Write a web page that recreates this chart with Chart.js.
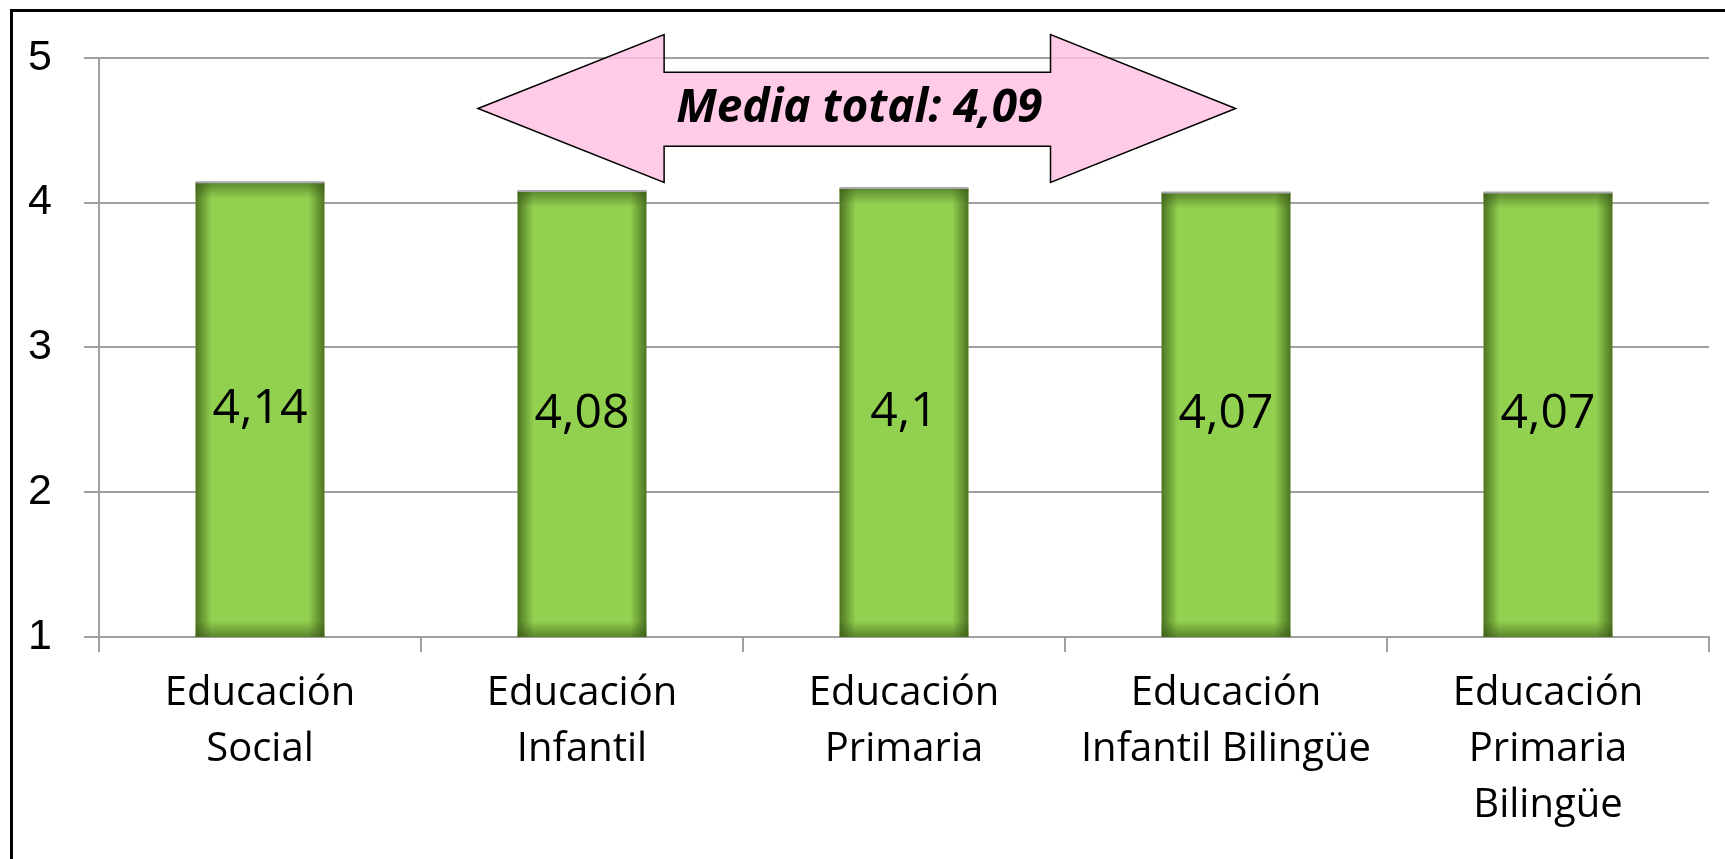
<!DOCTYPE html>
<html>
<head>
<meta charset="utf-8">
<script src="https://cdn.jsdelivr.net/npm/chart.js@4"></script>
<style>
  html, body { margin: 0; padding: 0; background: #fff; }
  #wrap { width: 1725px; height: 859px; }
</style>
</head>
<body>
<div id="wrap"><canvas id="grafico" width="1725" height="859"></canvas></div>
<script>
// Titulaciones y valoración media
const titulaciones = [
    ['Educación', 'Social'],
    ['Educación', 'Infantil'],
    ['Educación', 'Primaria'],
    ['Educación', 'Infantil Bilingüe'],
    ['Educación', 'Primaria', 'Bilingüe']
];
const medias = [4.14, 4.08, 4.1, 4.07, 4.07];
const mediaTotal = 4.09;
const escalaY = [1, 2, 3, 4, 5];

const fmt = v => String(v).replace('.', ',');

// Marco negro alrededor del gráfico
const marco = {
    id: 'marco',
    beforeDraw(chart) {
        const ctx = chart.ctx;
        ctx.save();
        ctx.strokeStyle = '#000';
        ctx.lineWidth = 3;
        ctx.strokeRect(11.5, 10.5, 1800, 1000);
        ctx.restore();
    }
};

// Sombreado interior de las barras y etiquetas de valor
const barras = {
    id: 'barras',
    afterDatasetsDraw(chart) {
        const ctx = chart.ctx;
        const meta = chart.getDatasetMeta(0);
        const area = chart.chartArea;
        ctx.save();
        meta.data.forEach((bar, i) => {
            const left = bar.x - bar.width / 2;
            const right = bar.x + bar.width / 2;
            const top = bar.y;
            const bottom = Math.min(bar.base, area.bottom);
            const s = 16;
            let g = ctx.createLinearGradient(left, 0, left + s, 0);
            g.addColorStop(0, 'rgba(55,85,20,0.75)');
            g.addColorStop(1, 'rgba(55,85,20,0)');
            ctx.fillStyle = g;
            ctx.fillRect(left, top, s, bottom - top);
            g = ctx.createLinearGradient(right, 0, right - s, 0);
            g.addColorStop(0, 'rgba(55,85,20,0.75)');
            g.addColorStop(1, 'rgba(55,85,20,0)');
            ctx.fillStyle = g;
            ctx.fillRect(right - s, top, s, bottom - top);
            g = ctx.createLinearGradient(0, top, 0, top + s);
            g.addColorStop(0, 'rgba(55,85,20,0.6)');
            g.addColorStop(1, 'rgba(55,85,20,0)');
            ctx.fillStyle = g;
            ctx.fillRect(left, top, right - left, s);
            g = ctx.createLinearGradient(0, bottom, 0, bottom - s);
            g.addColorStop(0, 'rgba(55,85,20,0.6)');
            g.addColorStop(1, 'rgba(55,85,20,0)');
            ctx.fillStyle = g;
            ctx.fillRect(left, bottom - s, right - left, s);
            ctx.strokeStyle = '#a8a8b0';
            ctx.lineWidth = 2;
            ctx.beginPath();
            ctx.moveTo(left, top);
            ctx.lineTo(right, top);
            ctx.stroke();

            ctx.fillStyle = '#000';
            ctx.font = '48px "Open Sans"';
            ctx.textAlign = 'center';
            ctx.textBaseline = 'middle';
            ctx.fillText(fmt(medias[i]), bar.x, (top + bottom) / 2);
        });
        ctx.restore();
    }
};

// Flecha doble con la media total
const flecha = {
    id: 'flecha',
    afterDraw(chart) {
        const x = chart.scales.x, y = chart.scales.y;
        const px = v => x.getPixelForValue(v);
        const py = v => y.getPixelForValue(v);
        const xa = px(0.677), xb = px(1.255), xc = px(2.455), xd = px(3.03);
        const ym = py(4.65), yt = py(5.16), yb = py(4.14), st = py(4.9), sb = py(4.39);
        const ctx = chart.ctx;
        ctx.save();
        ctx.beginPath();
        ctx.moveTo(xa, ym);
        ctx.lineTo(xb, yt);
        ctx.lineTo(xb, st);
        ctx.lineTo(xc, st);
        ctx.lineTo(xc, yt);
        ctx.lineTo(xd, ym);
        ctx.lineTo(xc, yb);
        ctx.lineTo(xc, sb);
        ctx.lineTo(xb, sb);
        ctx.lineTo(xb, yb);
        ctx.closePath();
        ctx.fillStyle = 'rgba(255,192,226,0.82)';
        ctx.fill();
        ctx.strokeStyle = '#000';
        ctx.lineWidth = 1.5;
        ctx.stroke();
        ctx.fillStyle = '#000';
        ctx.font = 'italic bold 46px "Open Sans"';
        ctx.textAlign = 'center';
        ctx.textBaseline = 'middle';
        ctx.fillText('Media total: ' + fmt(mediaTotal), (xb + xc) / 2 + 2, ym);
        ctx.restore();
    }
};

new Chart(document.getElementById('grafico'), {
    type: 'bar',
    data: {
        labels: titulaciones,
        datasets: [{
            data: medias,
            backgroundColor: '#92d050',
            borderWidth: 0,
            barPercentage: 0.8,
            categoryPercentage: 0.5
        }]
    },
    options: {
        responsive: false,
        animation: false,
        layout: { padding: { top: 50, right: 16, left: 0, bottom: 0 } },
        plugins: {
            legend: { display: false },
            tooltip: { enabled: false }
        },
        scales: {
            x: {
                afterFit(scale) { scale.height = 222; },
                grid: {
                    offset: true,
                    drawOnChartArea: false,
                    drawTicks: true,
                    tickLength: 15,
                    color: '#a0a0a0',
                    lineWidth: 2
                },
                border: { color: '#a0a0a0', width: 2 },
                ticks: {
                    color: '#000',
                    font: { family: 'Open Sans', size: 40, lineHeight: 1.4 },
                    padding: 14,
                    maxRotation: 0,
                    autoSkip: false
                }
            },
            y: {
                min: 1,
                max: 5,
                afterFit(scale) { scale.width = 99; },
                afterBuildTicks(scale) {
                    scale.ticks = escalaY.map(v => ({ value: v }));
                },
                grid: {
                    color: '#a0a0a0',
                    lineWidth: 2,
                    tickLength: 15
                },
                border: { color: '#a0a0a0', width: 2 },
                ticks: {
                    color: '#000',
                    font: { family: 'Liberation Sans', size: 43 },
                    padding: 32
                }
            }
        }
    },
    plugins: [marco, barras, flecha]
});
</script>
</body>
</html>
